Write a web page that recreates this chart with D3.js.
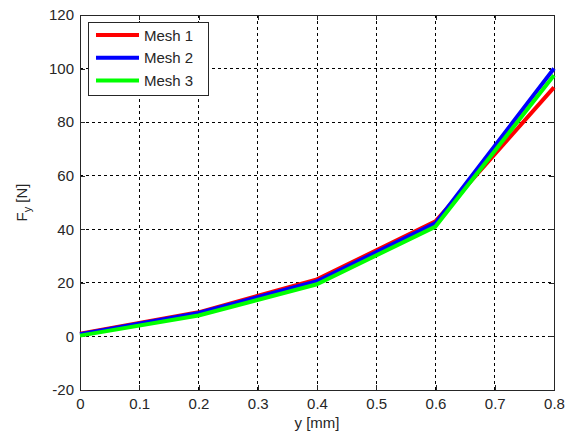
<!DOCTYPE html>
<html><head><meta charset="utf-8">
<script src="https://cdn.jsdelivr.net/npm/d3@7"></script>
<style>body{margin:0;background:#fff}svg{display:block}text{font-family:"Liberation Sans",Arial,sans-serif}</style>
</head><body>
<script>
const xs = [0, 0.2, 0.4, 0.6, 0.8];
const mesh1 = [1.0, 9.0, 21.3, 43.0, 93.0];
const mesh2 = [0.8, 8.8, 20.6, 42.3, 100.0];
const mesh3 = [0.3, 7.8, 19.5, 41.0, 97.5];
const seriesNames = ["Mesh 1", "Mesh 2", "Mesh 3"];
const seriesColors = ["#ff0000", "#0000ff", "#00ff00"];
const xTicks = [0, 0.1, 0.2, 0.3, 0.4, 0.5, 0.6, 0.7, 0.8];
const yTicks = [-20, 0, 20, 40, 60, 80, 100, 120];

const W = 566, H = 436;
const L = 80, R = 554, T = 15, B = 390;
const svg = d3.select("body").append("svg").attr("width", W).attr("height", H);
const x = d3.scaleLinear().domain([0, 0.8]).range([L, R]);
const y = d3.scaleLinear().domain([-20, 120]).range([B, T]);

// grid
const g = svg.append("g");
g.selectAll(".gx").data(xTicks.slice(1, -1)).enter().append("line")
  .attr("x1", d => x(d)).attr("x2", d => x(d)).attr("y1", T).attr("y2", B)
  .attr("stroke", "#000").attr("stroke-width", 1).attr("stroke-dasharray", "3,3").attr("shape-rendering", "crispEdges");
g.selectAll(".gy").data(yTicks.slice(1, -1)).enter().append("line")
  .attr("y1", d => y(d)).attr("y2", d => y(d)).attr("x1", L).attr("x2", R)
  .attr("stroke", "#000").attr("stroke-width", 1).attr("stroke-dasharray", "3,3").attr("shape-rendering", "crispEdges");

// axes
const fmt = d => String(d);
const ax = svg.append("g").attr("transform", `translate(0,${B})`)
  .call(d3.axisBottom(x).tickValues(xTicks).tickFormat(fmt).tickSizeInner(-5).tickSizeOuter(0).tickPadding(8));
const ay = svg.append("g").attr("transform", `translate(${L},0)`)
  .call(d3.axisLeft(y).tickValues(yTicks).tickFormat(fmt).tickSizeInner(-5).tickSizeOuter(0).tickPadding(6));
const axT = svg.append("g").attr("transform", `translate(0,${T})`)
  .call(d3.axisTop(x).tickValues(xTicks).tickFormat("").tickSizeInner(-5).tickSizeOuter(0));
const ayR = svg.append("g").attr("transform", `translate(${R},0)`)
  .call(d3.axisRight(y).tickValues(yTicks).tickFormat("").tickSizeInner(-5).tickSizeOuter(0));
[ax, ay, axT, ayR].forEach(a => {
  a.select(".domain").attr("stroke", "#262626").attr("shape-rendering", "crispEdges");
  a.selectAll(".tick line").attr("stroke", "#262626").attr("shape-rendering", "crispEdges");
  a.selectAll("text").attr("font-size", 15).attr("fill", "#262626").attr("font-family", "'Liberation Sans',Arial,sans-serif");
});

// lines
const data = [mesh1, mesh2, mesh3];
const line = d3.line().x((d, i) => x(xs[i])).y(d => y(d));
svg.selectAll(".s").data(data).enter().append("path")
  .attr("d", d => line(d)).attr("fill", "none")
  .attr("stroke", (d, i) => seriesColors[i]).attr("stroke-width", 4).attr("stroke-linejoin", "round");

// labels
svg.append("text").attr("x", (L + R) / 2).attr("y", 428).attr("text-anchor", "middle")
  .attr("font-size", 15).attr("fill", "#262626").text("y [mm]");
const yl = svg.append("text").attr("transform", `translate(27,${(T + B) / 2}) rotate(-90)`)
  .attr("text-anchor", "middle").attr("font-size", 15).attr("fill", "#262626");
yl.append("tspan").text("F");
yl.append("tspan").attr("dy", 4).attr("font-size", 11).text("y");
yl.append("tspan").attr("dy", -4).text(" [N]");

// legend
const lg = svg.append("g");
lg.append("rect").attr("x", 88).attr("y", 22).attr("width", 120).attr("height", 73)
  .attr("fill", "#fff").attr("stroke", "#262626").attr("shape-rendering", "crispEdges");
seriesNames.forEach((n, i) => {
  const yy = 35 + i * 22.7;
  lg.append("line").attr("x1", 96).attr("x2", 139).attr("y1", yy).attr("y2", yy)
    .attr("stroke", seriesColors[i]).attr("stroke-width", 4);
  lg.append("text").attr("x", 144).attr("y", yy + 5.5).attr("font-size", 15).attr("fill", "#262626").text(n);
});
</script>
</body></html>
